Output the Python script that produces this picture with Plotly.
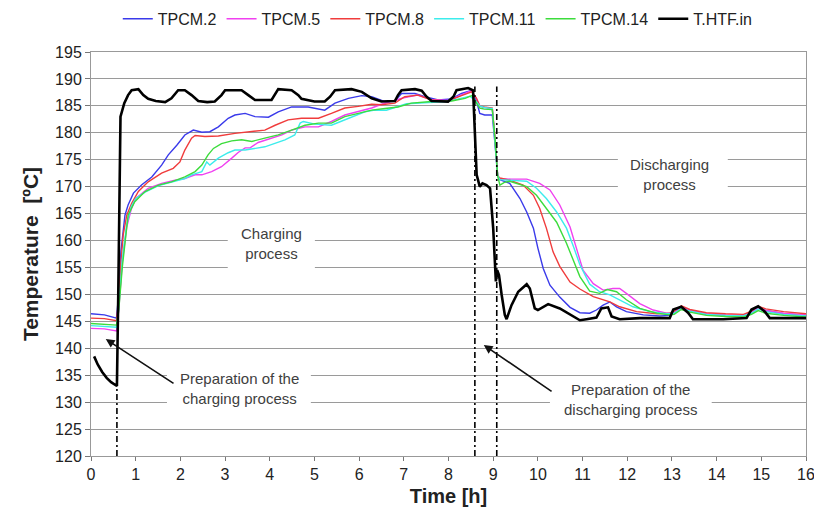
import plotly.graph_objects as go

# ---------------- data ----------------
tpcm2_x = [0, 0.3, 0.57, 0.62, 0.67, 0.72, 0.76, 0.83, 0.95, 1.13, 1.36, 1.58, 1.73, 1.92, 2.10, 2.29, 2.48, 2.66,
           2.85, 3.07, 3.22, 3.45, 3.67, 3.97, 4.19, 4.49, 4.86, 5.23, 5.46, 5.76, 6.06, 6.28, 6.58, 6.80, 6.95,
           7.25, 7.47, 7.77, 8.07, 8.29, 8.52, 8.63, 8.70, 8.81, 8.98, 9.04, 9.10, 9.15, 9.37, 9.60, 9.75, 9.90,
           10.0, 10.12, 10.27, 10.49, 10.72, 10.94, 11.16, 11.31, 11.46, 11.61, 11.76, 11.98, 12.36, 12.73, 12.95,
           13.05, 13.21, 13.4, 13.77, 14.2, 14.6, 14.78, 14.93, 15.1, 15.5, 16.0]
tpcm2_y = [146.4, 146.2, 145.6, 150.0, 158.0, 162.5, 164.7, 166.6, 168.8, 170.3, 171.8, 174.0, 175.9, 177.7, 179.6,
           180.5, 180.1, 180.2, 181.1, 182.7, 183.3, 183.6, 183.0, 182.9, 183.9, 184.8, 184.8, 184.2, 185.5, 186.4,
           186.9, 186.7, 185.8, 185.9, 187.3, 187.3, 186.7, 186.1, 186.3, 187.3, 187.9, 185.8, 183.6, 183.3, 183.3,
           178.0, 172.0, 171.3, 170.6, 167.8, 165.3, 162.3, 158.6, 154.8, 151.7, 149.5, 147.6, 146.6, 146.5, 147.1,
           148.0, 148.6, 147.7, 146.8, 146.2, 146.0, 146.1, 146.6, 147.8, 147.0, 146.3, 146.1, 146.0, 146.8, 147.7,
           147.0, 146.4, 146.1]

tpcm5_x = [0, 0.3, 0.57, 0.62, 0.70, 0.80, 0.90, 1.0, 1.28, 1.58, 1.88, 2.10, 2.33, 2.48, 2.70, 2.92, 3.15, 3.30,
           3.45, 3.56, 3.74, 4.04, 4.27, 4.49, 4.79, 5.09, 5.38, 5.68, 5.98, 6.28, 6.50, 7.0, 7.3, 7.6, 8.0, 8.3,
           8.5, 8.62, 8.70, 8.80, 8.98, 9.04, 9.10, 9.15, 9.4, 9.75, 10.04, 10.27, 10.49, 10.72, 10.87, 11.01,
           11.24, 11.46, 11.68, 11.83, 11.98, 12.28, 12.58, 12.88, 13.05, 13.21, 13.4, 13.77, 14.2, 14.6, 14.78,
           14.93, 15.1, 15.5, 16.0]
tpcm5_y = [143.7, 143.6, 143.2, 147.0, 156.0, 162.5, 165.8, 167.8, 169.7, 170.6, 171.2, 171.5, 172.2, 172.2, 172.8,
           173.7, 175.3, 176.4, 177.2, 177.2, 178.2, 179.0, 179.6, 180.5, 181.1, 181.1, 182.1, 183.3, 183.9, 184.6,
           185.3, 186.5, 187.0, 186.2, 186.0, 187.0, 187.8, 186.5, 185.0, 184.7, 184.5, 179.0, 172.0, 171.5, 171.4,
           171.4, 170.6, 169.4, 166.6, 162.5, 158.5, 154.5, 152.0, 150.8, 151.1, 151.1, 150.2, 148.3, 147.1, 146.5,
           146.6, 147.6, 147.0, 146.4, 146.2, 146.1, 146.6, 147.5, 147.0, 146.5, 146.2]

tpcm8_x = [0, 0.3, 0.57, 0.62, 0.67, 0.72, 0.80, 0.91, 1.06, 1.28, 1.58, 1.84, 1.99, 2.10, 2.25, 2.33, 2.55, 2.85,
           3.22, 3.45, 3.89, 4.12, 4.41, 4.71, 5.09, 5.38, 5.68, 5.98, 6.28, 6.50, 6.80, 7.02, 7.32, 7.62, 7.99,
           8.29, 8.52, 8.62, 8.70, 8.80, 8.98, 9.04, 9.10, 9.15, 9.37, 9.67, 9.90, 10.04, 10.19, 10.34, 10.49,
           10.72, 10.94, 11.24, 11.46, 11.61, 11.83, 12.21, 12.66, 12.95, 13.05, 13.21, 13.4, 13.77, 14.2, 14.6,
           14.78, 14.93, 15.1, 15.5, 16.0]
tpcm8_y = [145.6, 145.5, 145.1, 149.0, 156.0, 161.0, 164.7, 166.9, 169.1, 170.9, 172.5, 173.4, 174.6, 176.8, 179.0,
           179.5, 179.3, 179.4, 179.9, 180.1, 180.5, 181.4, 182.4, 182.7, 182.7, 183.6, 184.6, 184.9, 185.3, 185.2,
           185.5, 186.7, 187.0, 186.1, 185.9, 186.9, 187.6, 186.5, 185.0, 184.8, 184.6, 179.0, 172.0, 171.6, 171.2,
           170.3, 168.4, 166.0, 162.3, 157.9, 155.2, 152.3, 151.0, 149.6, 149.0, 148.6, 147.7, 146.8, 146.4, 146.5,
           146.9, 147.9, 147.2, 146.6, 146.4, 146.3, 146.9, 147.8, 147.3, 146.8, 146.4]

tpcm11_x = [0, 0.3, 0.57, 0.62, 0.70, 0.80, 0.90, 1.0, 1.21, 1.51, 1.80, 2.10, 2.25, 2.48, 2.59, 2.66, 2.85, 3.07,
            3.22, 3.45, 3.89, 4.34, 4.56, 4.68, 4.75, 5.01, 5.38, 5.76, 6.13, 6.35, 6.61, 7.06, 7.58, 7.96, 8.48,
            8.62, 8.70, 8.80, 8.98, 9.04, 9.10, 9.15, 9.4, 9.75, 9.97, 10.19, 10.42, 10.64, 10.80, 10.94, 11.16,
            11.38, 11.61, 11.83, 12.13, 12.51, 12.88, 13.05, 13.21, 13.4, 13.77, 14.2, 14.6, 14.78, 14.93, 15.1,
            15.5, 16.0]
tpcm11_y = [144.2, 144.1, 143.9, 147.5, 156.5, 163.0, 166.3, 167.8, 169.0, 170.2, 170.8, 171.5, 172.2, 172.8, 174.6,
            174.0, 175.3, 176.3, 176.8, 176.8, 177.4, 178.7, 179.6, 181.8, 182.1, 181.6, 181.4, 182.7, 183.9, 184.2,
            184.2, 185.4, 185.6, 185.8, 186.8, 185.8, 185.0, 184.7, 184.5, 179.0, 172.0, 171.3, 171.2, 171.0, 169.7,
            167.8, 165.3, 162.3, 158.8, 155.5, 151.9, 150.5, 149.9, 149.0, 147.7, 146.8, 146.4, 146.5, 147.4, 146.9,
            146.3, 146.1, 146.0, 146.5, 147.3, 146.8, 146.3, 146.0]

tpcm14_x = [0, 0.3, 0.57, 0.62, 0.70, 0.83, 0.98, 1.21, 1.51, 1.80, 2.10, 2.33, 2.48, 2.62, 2.74, 2.92, 3.15, 3.37,
            3.60, 3.89, 4.19, 4.49, 4.79, 5.09, 5.38, 5.68, 5.98, 6.28, 6.58, 6.87, 7.17, 7.62, 8.07, 8.37, 8.52,
            8.62, 8.70, 8.80, 8.98, 9.04, 9.10, 9.15, 9.25, 9.37, 9.75, 9.97, 10.19, 10.42, 10.64, 10.80, 10.94,
            11.16, 11.38, 11.55, 11.76, 11.98, 12.28, 12.66, 12.95, 13.05, 13.21, 13.4, 13.77, 14.2, 14.6, 14.78,
            14.93, 15.1, 15.5, 16.0]
tpcm14_y = [144.6, 144.5, 144.3, 147.0, 155.0, 164.7, 167.2, 169.1, 170.3, 170.9, 171.8, 172.8, 174.0, 175.9, 177.1,
            178.0, 178.5, 178.7, 178.4, 179.0, 179.6, 180.5, 181.4, 181.8, 181.8, 183.0, 183.6, 184.2, 184.5, 184.8,
            185.5, 185.8, 185.9, 186.4, 186.9, 185.5, 184.6, 184.4, 184.3, 179.0, 172.0, 170.3, 170.8, 171.0, 170.0,
            168.4, 166.0, 163.4, 159.5, 156.0, 153.3, 150.6, 150.2, 150.9, 150.5, 149.0, 147.4, 146.5, 146.2, 146.3,
            147.2, 146.7, 146.1, 145.9, 145.8, 146.3, 147.0, 146.5, 146.1, 145.8]

htf_x = [0.07, 0.15, 0.25, 0.35, 0.45, 0.55, 0.58, 0.61, 0.64, 0.66, 0.745, 0.83, 0.91, 1.06, 1.17, 1.28, 1.45,
         1.66, 1.80, 1.95, 2.10, 2.25, 2.40, 2.60, 2.77, 2.92, 3.0, 3.37, 3.52, 3.67, 4.04, 4.12, 4.19, 4.49, 4.64,
         4.71, 5.0, 5.23, 5.35, 5.46, 5.83, 6.06, 6.28, 6.50, 6.80, 6.87, 6.95, 7.25, 7.40, 7.51, 7.62, 7.99, 8.11,
         8.18, 8.44, 8.55, 8.59, 8.63, 8.70, 8.76, 8.85, 8.93, 9.0, 9.04, 9.06, 9.09, 9.13, 9.19, 9.26, 9.30, 9.41,
         9.56, 9.75, 9.82, 9.93, 10.0, 10.23, 10.49, 10.79, 10.94, 11.09, 11.31, 11.42, 11.57, 11.65, 11.83, 12.28,
         12.95, 13.03, 13.21, 13.36, 13.47, 14.15, 14.67, 14.78, 14.93, 15.08, 15.19, 16.0]
htf_y = [138.5, 137.0, 135.6, 134.5, 133.7, 133.1, 133.0, 150.0, 170.0, 183.0, 185.5, 187.0, 187.9, 188.1, 187.0,
         186.3, 185.9, 185.7, 186.4, 187.9, 187.9, 187.0, 185.9, 185.7, 185.8, 187.0, 187.9, 187.9, 187.0, 186.1,
         186.1, 187.3, 188.1, 187.9, 187.0, 186.3, 185.8, 185.8, 186.7, 187.9, 188.1, 187.6, 186.4, 185.8, 185.9,
         187.0, 187.9, 188.1, 187.8, 186.7, 185.9, 185.8, 186.7, 187.9, 188.3, 187.9, 180.0, 172.2, 170.0, 170.6,
         170.3, 169.7, 162.3, 156.1, 152.4, 154.5, 153.6, 149.9, 146.2, 145.4, 148.0, 150.5, 151.9, 151.1, 147.4,
         147.1, 148.2, 147.4, 145.9, 145.2, 145.4, 145.7, 147.4, 147.6, 145.9, 145.4, 145.6, 145.6, 147.2, 147.7,
         146.6, 145.4, 145.4, 145.6, 147.2, 147.8, 146.8, 145.6, 145.6]

series_names = ["TPCM.2", "TPCM.5", "TPCM.8", "TPCM.11", "TPCM.14", "T.HTF.in"]
x_ticks = list(range(0, 17))
y_ticks = list(range(120, 200, 5))

# annotation labels
charging_label = "Charging<br>process"
discharging_label = "Discharging<br>process"
prep_charge_label = "Preparation of the<br>charging process"
prep_discharge_label = "Preparation of the<br>discharging process"

# ---------------- figure ----------------
colors = ["#3a3aea", "#f040f0", "#f03c3c", "#3cecec", "#3cdc3c", "#000000"]
widths = [1.4, 1.4, 1.4, 1.4, 1.4, 2.6]
xs = [tpcm2_x, tpcm5_x, tpcm8_x, tpcm11_x, tpcm14_x, htf_x]
ys = [tpcm2_y, tpcm5_y, tpcm8_y, tpcm11_y, tpcm14_y, htf_y]

fig = go.Figure()
for name, x, y, c, w in zip(series_names, xs, ys, colors, widths):
    fig.add_trace(go.Scatter(x=x, y=y, mode="lines", name=name,
                             line=dict(color=c, width=w)))

font_main = "Liberation Sans, Arial, sans-serif"
txt_col = "#404040"

# white boxes hiding gridlines behind the texts
boxes = [(3.06, 5.01, 154.1, 164.1), (11.79, 14.25, 168.4, 176.8),
         (1.70, 4.92, 127.8, 137.4), (10.27, 13.89, 126.7, 134.1)]
shapes = []
for x0, x1, y0, y1 in boxes:
    shapes.append(dict(type="rect", xref="x", yref="y", x0=x0, x1=x1, y0=y0, y1=y1,
                       fillcolor="white", line=dict(width=0), layer="between"))
# dash-dot vertical markers
for xv, ytop in [(0.58, 133.0), (8.59, 188.6), (9.08, 188.6)]:
    shapes.append(dict(type="line", xref="x", yref="y", x0=xv, x1=xv, y0=120, y1=ytop,
                       line=dict(color="black", width=1.6, dash="6px,3px,2px,3px"), layer="above"))

annotations = [
    dict(x=4.05, y=159.4, xref="x", yref="y", text=charging_label, showarrow=False,
         font=dict(size=15, color=txt_col, family=font_main)),
    dict(x=12.95, y=172.3, xref="x", yref="y", text=discharging_label, showarrow=False,
         font=dict(size=15, color=txt_col, family=font_main)),
    dict(x=3.33, y=132.6, xref="x", yref="y", text=prep_charge_label, showarrow=False,
         font=dict(size=15, color=txt_col, family=font_main)),
    dict(x=12.08, y=130.4, xref="x", yref="y", text=prep_discharge_label, showarrow=False,
         font=dict(size=15, color=txt_col, family=font_main)),
    # arrows
    dict(x=0.33, y=141.7, ax=1.88, ay=133.3, xref="x", yref="y", axref="x", ayref="y",
         text="", showarrow=True, arrowhead=2, arrowsize=1.1, arrowwidth=1.6, arrowcolor="#111"),
    dict(x=8.79, y=140.6, ax=10.34, ay=131.8, xref="x", yref="y", axref="x", ayref="y",
         text="", showarrow=True, arrowhead=2, arrowsize=1.1, arrowwidth=1.6, arrowcolor="#111"),
]

# page body has an 8px default margin: size the figure so the visible 822x516 matches
fig.update_layout(
    width=814, height=508,
    margin=dict(l=83, r=16, t=44, b=60, autoexpand=False),
    paper_bgcolor="white", plot_bgcolor="white",
    font=dict(family=font_main, size=16, color="#222"),
    showlegend=True,
    legend=dict(orientation="h", x=0.485, xanchor="center", y=1.082, yanchor="middle",
                font=dict(size=16, color="#222"), bgcolor="rgba(0,0,0,0)", itemwidth=30,
                tracegroupgap=0),
    shapes=shapes, annotations=annotations,
)
fig.update_xaxes(range=[0, 16], tickvals=x_ticks, ticktext=[str(v) for v in x_ticks],
                 showgrid=False, zeroline=False, showline=True, linecolor="#999", linewidth=1,
                 mirror=True, ticks="outside", ticklen=4, tickcolor="#777",
                 tickfont=dict(size=16, color="#222"), automargin=False,
                 title=dict(text="<b>Time [h]</b>", font=dict(size=20, color="#222"), standoff=6))
fig.update_yaxes(range=[120, 195], tickvals=y_ticks, ticktext=[str(v) for v in y_ticks],
                 showgrid=True, gridcolor="#9a9a9a", gridwidth=1, zeroline=False,
                 showline=True, linecolor="#999", linewidth=1, mirror=True,
                 ticks="outside", ticklen=5, tickcolor="#777",
                 tickfont=dict(size=16, color="#222"), automargin=False,
                 title=dict(text="<b>Temperature\u00a0 [ºC]</b>", font=dict(size=21, color="#222"), standoff=10))

fig.write_html("out.html")
